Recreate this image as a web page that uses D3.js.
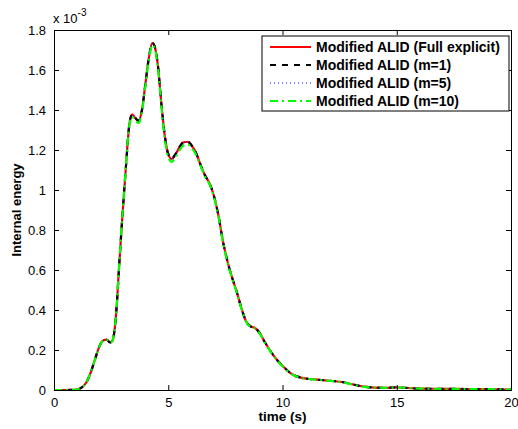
<!DOCTYPE html>
<html><head><meta charset="utf-8">
<script src="https://cdn.jsdelivr.net/npm/d3@7"></script>
<style>body{margin:0;background:#fff;}svg{display:block;font-family:"Liberation Sans",Arial,Helvetica,sans-serif;}</style>
</head><body>
<svg id="c" width="518" height="429"></svg>
<script>
const times = [0,0.5,1.0,1.2,1.4,1.6,1.8,2.0,2.15,2.3,2.45,2.55,2.65,2.75,2.85,3.0,3.15,3.3,3.42,3.55,3.7,3.85,4.0,4.15,4.3,4.4,4.55,4.7,4.85,5.0,5.15,5.3,5.5,5.7,5.85,6.0,6.2,6.4,6.6,6.8,7.0,7.2,7.4,7.6,7.8,8.0,8.2,8.4,8.6,8.8,9.0,9.2,9.5,9.8,10.1,10.4,10.8,11.2,11.7,12.2,12.6,13.0,13.5,14.0,14.5,15.0,15.5,16,17,18,19,20];
const fullExplicit = [0,0,0.002,0.012,0.035,0.085,0.155,0.222,0.248,0.252,0.238,0.245,0.30,0.43,0.62,0.88,1.12,1.33,1.378,1.36,1.345,1.40,1.53,1.66,1.735,1.72,1.62,1.43,1.27,1.18,1.155,1.175,1.215,1.24,1.24,1.225,1.19,1.13,1.075,1.035,0.97,0.87,0.74,0.64,0.56,0.49,0.41,0.345,0.318,0.31,0.285,0.245,0.19,0.145,0.11,0.08,0.062,0.055,0.05,0.045,0.04,0.03,0.018,0.012,0.011,0.013,0.01,0.007,0.006,0.005,0.004,0.002];
const m1 = [0,0,0.002,0.012,0.035,0.085,0.155,0.222,0.248,0.252,0.238,0.245,0.30,0.43,0.62,0.88,1.12,1.33,1.378,1.362,1.347,1.40,1.53,1.66,1.735,1.72,1.62,1.43,1.27,1.18,1.157,1.177,1.217,1.242,1.242,1.227,1.19,1.13,1.075,1.035,0.97,0.87,0.74,0.64,0.56,0.49,0.41,0.345,0.318,0.31,0.285,0.245,0.19,0.145,0.11,0.08,0.062,0.055,0.05,0.045,0.04,0.03,0.018,0.012,0.011,0.013,0.01,0.007,0.006,0.005,0.004,0.002];
const m5 = [0,0,0.002,0.012,0.035,0.085,0.155,0.222,0.248,0.252,0.238,0.245,0.30,0.43,0.62,0.88,1.12,1.33,1.376,1.358,1.344,1.40,1.53,1.66,1.733,1.718,1.62,1.43,1.27,1.178,1.152,1.172,1.212,1.236,1.237,1.222,1.188,1.13,1.075,1.035,0.97,0.87,0.74,0.64,0.56,0.49,0.41,0.345,0.318,0.31,0.285,0.245,0.19,0.145,0.11,0.08,0.062,0.055,0.05,0.045,0.04,0.03,0.018,0.012,0.011,0.013,0.01,0.007,0.006,0.005,0.004,0.002];
const m10 = [0,0,0.002,0.012,0.035,0.085,0.155,0.222,0.248,0.252,0.236,0.243,0.30,0.43,0.62,0.88,1.12,1.325,1.366,1.348,1.335,1.39,1.52,1.65,1.725,1.712,1.61,1.42,1.255,1.165,1.14,1.16,1.2,1.225,1.228,1.213,1.18,1.125,1.07,1.03,0.965,0.865,0.735,0.635,0.555,0.487,0.408,0.343,0.316,0.308,0.283,0.243,0.188,0.143,0.108,0.079,0.061,0.054,0.049,0.044,0.039,0.029,0.017,0.012,0.011,0.013,0.01,0.007,0.006,0.005,0.004,0.002];
const seriesNames = ["Modified ALID (Full explicit)","Modified ALID (m=1)","Modified ALID (m=5)","Modified ALID (m=10)"];
const seriesValues = [fullExplicit, m1, m5, m10];
const xTicks = [0,5,10,15,20];
const yTicks = [0,0.2,0.4,0.6,0.8,1,1.2,1.4,1.6,1.8];

const styles = [
  {color:"#ff0000", width:2.2, dash:null},
  {color:"#000000", width:2.2, dash:"6,6"},
  {color:"#0000ff", width:1, dash:"1,3"},
  {color:"#00ff00", width:2.2, dash:"8,4,2,4"}
];

const svg = d3.select("#c");
const L=54, T=30, R=511, B=390;
const x = d3.scaleLinear().domain([0,20]).range([L,R]);
const y = d3.scaleLinear().domain([0,1.8]).range([B,T]);

svg.append("rect").attr("x",L).attr("y",T).attr("width",R-L).attr("height",B-T).attr("fill","#fff");

const line = d3.line().x(d=>x(d[0])).y(d=>y(d[1])).curve(d3.curveMonotoneX);
svg.append("clipPath").attr("id","pc").append("rect").attr("x",L).attr("y",T-2).attr("width",R-L).attr("height",B-T+3);
const g = svg.append("g").attr("clip-path","url(#pc)");
seriesValues.forEach((vals,i)=>{
  const pts = times.map((t,j)=>[t,vals[j]]);
  g.append("path").attr("d",line(pts)).attr("fill","none")
    .attr("stroke",styles[i].color).attr("stroke-width",styles[i].width)
    .attr("stroke-dasharray",styles[i].dash);
});

// axes
const fmtY = d=> d===0?"0":(d===1?"1":d3.format(".1f")(d));
const axB = d3.axisBottom(x).tickValues(xTicks).tickSize(-5).tickPadding(8).tickFormat(d3.format("d"));
const axT = d3.axisTop(x).tickValues(xTicks).tickSize(-5).tickFormat("");
const axL = d3.axisLeft(y).tickValues(yTicks).tickSize(-5).tickPadding(8).tickFormat(fmtY);
const axR = d3.axisRight(y).tickValues(yTicks).tickSize(-5).tickFormat("");
[[axB,`translate(0,${B})`],[axT,`translate(0,${T})`],[axL,`translate(${L},0)`],[axR,`translate(${R},0)`]].forEach(([a,tr])=>{
  const gg = svg.append("g").attr("transform",tr).call(a);
  gg.select(".domain").attr("stroke","#000").attr("stroke-width",1);
  gg.selectAll(".tick line").attr("stroke","#000");
  gg.selectAll("text").attr("font-size",13).attr("fill","#000").attr("font-family","Liberation Sans, Arial, sans-serif");
});

// exponent
const ex = svg.append("text").attr("x",53).attr("y",23).attr("font-size",13).attr("fill","#000");
ex.append("tspan").text("x 10");
ex.append("tspan").attr("dy",-7).attr("font-size",10).text("-3");

// axis labels
svg.append("text").attr("x",(L+R)/2).attr("y",421).attr("text-anchor","middle")
  .attr("font-size",13.5).attr("font-weight","bold").text("time (s)");
svg.append("text").attr("transform",`translate(21,${(T+B)/2}) rotate(-90)`).attr("text-anchor","middle")
  .attr("font-size",13).attr("font-weight","bold").text("Internal energy");

// legend
const lg = svg.append("g");
lg.append("rect").attr("x",262).attr("y",36).attr("width",247).attr("height",75)
  .attr("fill","#fff").attr("stroke","#000").attr("stroke-width",1);
seriesNames.forEach((n,i)=>{
  const yy = 47 + i*18;
  lg.append("line").attr("x1",270).attr("x2",311).attr("y1",yy).attr("y2",yy)
    .attr("stroke",styles[i].color).attr("stroke-width",styles[i].width).attr("stroke-dasharray",styles[i].dash);
  lg.append("text").attr("x",316).attr("y",yy+5).attr("font-size",14).attr("font-weight","bold").text(n);
});
</script>
</body></html>
